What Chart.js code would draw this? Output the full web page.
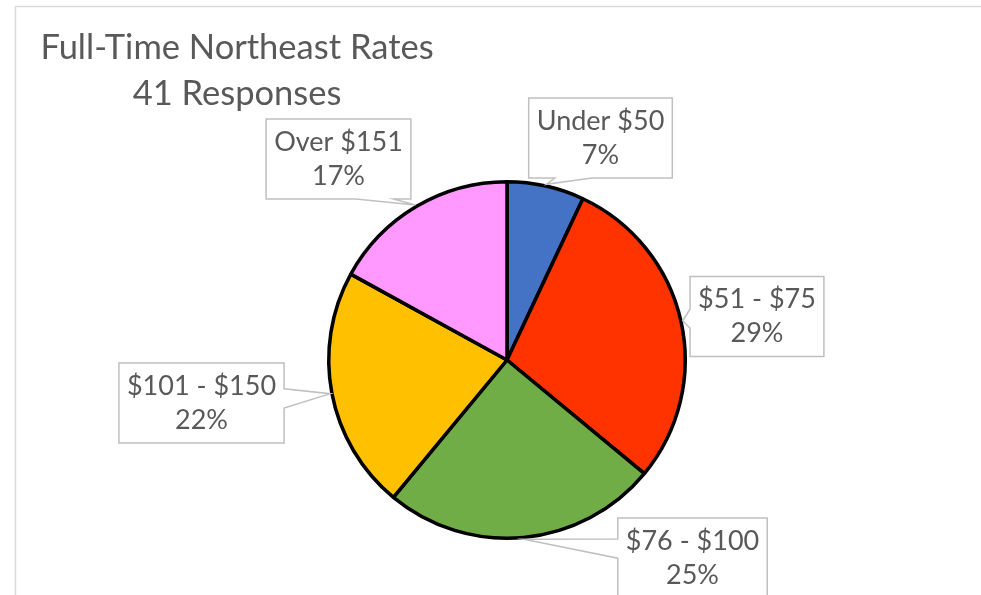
<!DOCTYPE html>
<html>
<head>
<meta charset="utf-8">
<script src="https://cdn.jsdelivr.net/npm/chart.js@4"></script>
<style>
  html, body { margin: 0; padding: 0; background: #ffffff; }
  #wrap { width: 981px; height: 595px; position: relative; }
</style>
</head>
<body>
<div id="wrap"><canvas id="c" width="981" height="595"></canvas></div>
<script>
const categories = ['Under $50', '$51 - $75', '$76 - $100', '$101 - $150', 'Over $151'];
const shares = [7, 29, 25, 22, 17];
const sliceColors = ['#4472C4', '#FF3300', '#70AD47', '#FFC000', '#FF99FF'];
const titleLines = ['Full-Time Northeast Rates', '41 Responses'];

const framePlugin = {
  id: 'frame',
  beforeDraw(chart) {
    const ctx = chart.ctx;
    ctx.save();
    ctx.fillStyle = '#ffffff';
    ctx.fillRect(0, 0, chart.width, chart.height);
    ctx.strokeStyle = '#d9d9d9';
    ctx.lineWidth = 1.5;
    ctx.strokeRect(15.5, 6.5, chart.width + 20, chart.height + 20);
    ctx.restore();
  }
};

const titlePlugin = {
  id: 'excelTitle',
  afterDraw(chart, args, opts) {
    const ctx = chart.ctx;
    ctx.save();
    ctx.font = opts.font;
    ctx.fillStyle = opts.color;
    ctx.textAlign = 'center';
    ctx.textBaseline = 'alphabetic';
    opts.lines.forEach((t, i) => ctx.fillText(t, opts.x, opts.y + i * opts.lineHeight));
    ctx.restore();
  }
};

const calloutPlugin = {
  id: 'callouts',
  afterDatasetsDraw(chart, args, opts) {
    const ctx = chart.ctx;
    const meta = chart.getDatasetMeta(0);
    const ds = chart.data.datasets[0];
    ctx.save();
    ctx.font = opts.font;
    meta.data.forEach((arc, i) => {
      const p = arc.getProps(['x', 'y', 'startAngle', 'endAngle', 'outerRadius'], true);
      const mid = (p.startAngle + p.endAngle) / 2;
      const r = p.outerRadius + ds.borderWidth / 2;
      const tx = p.x + Math.cos(mid) * r;
      const ty = p.y + Math.sin(mid) * r;
      const lines = [chart.data.labels[i], ds.data[i] + '%'];
      const w = Math.max(...lines.map(l => ctx.measureText(l).width)) + 2 * opts.padX;
      const h = opts.boxH;
      const off = opts.offsets[i];
      const cx = p.x + off[0], cy = p.y + off[1];
      const L = cx - w / 2, R = cx + w / 2, T = cy - h / 2, B = cy + h / 2;
      const over = {
        top: (T - ty) / h, bottom: (ty - B) / h,
        left: (L - tx) / w, right: (tx - R) / w
      };
      let side = 'bottom', best = -Infinity;
      for (const k in over) { if (over[k] > best) { best = over[k]; side = k; } }
      const clamp = (v, a, b) => Math.max(a, Math.min(b, v));
      let bc, hw;
      if (side === 'top' || side === 'bottom') {
        hw = 0.13 * w;
        bc = clamp((cx + clamp(tx, L, R)) / 2, L + hw, R - hw);
      } else {
        hw = 0.12 * h;
        bc = clamp((cy + clamp(ty, T, B)) / 2, T + hw, B - hw);
      }
      ctx.beginPath();
      ctx.moveTo(L, T);
      if (side === 'top') { ctx.lineTo(bc - hw, T); ctx.lineTo(tx, ty); ctx.lineTo(bc + hw, T); }
      ctx.lineTo(R, T);
      if (side === 'right') { ctx.lineTo(R, bc - hw); ctx.lineTo(tx, ty); ctx.lineTo(R, bc + hw); }
      ctx.lineTo(R, B);
      if (side === 'bottom') { ctx.lineTo(bc + hw, B); ctx.lineTo(tx, ty); ctx.lineTo(bc - hw, B); }
      ctx.lineTo(L, B);
      if (side === 'left') { ctx.lineTo(L, bc + hw); ctx.lineTo(tx, ty); ctx.lineTo(L, bc - hw); }
      ctx.closePath();
      ctx.fillStyle = '#ffffff';
      ctx.fill();
      ctx.strokeStyle = opts.borderColor;
      ctx.lineWidth = 1.5;
      ctx.lineJoin = 'miter';
      ctx.stroke();
      ctx.fillStyle = opts.color;
      ctx.textAlign = 'center';
      ctx.textBaseline = 'middle';
      ctx.fillText(lines[0], cx, cy - opts.lineHeight / 2);
      ctx.fillText(lines[1], cx, cy + opts.lineHeight / 2);
    });
    ctx.restore();
  }
};

new Chart(document.getElementById('c'), {
  type: 'pie',
  data: {
    labels: categories,
    datasets: [{
      data: shares,
      backgroundColor: sliceColors,
      borderColor: '#000000',
      borderWidth: 3.5
    }]
  },
  plugins: [framePlugin, titlePlugin, calloutPlugin],
  options: {
    responsive: false,
    devicePixelRatio: 1,
    animation: false,
    layout: { padding: { left: 327, right: 294, top: 180, bottom: 55 } },
    plugins: {
      legend: { display: false },
      tooltip: { enabled: false },
      title: { display: false },
      excelTitle: {
        lines: titleLines,
        font: '34.5px Lato',
        color: '#595959',
        x: 237,
        y: 59,
        lineHeight: 46
      },
      callouts: {
        font: '27px Lato',
        color: '#595959',
        borderColor: '#c0c0c0',
        padX: 8,
        boxH: 80,
        lineHeight: 34,
        offsets: [[93.5, -222], [250, -43.5], [185.5, 198], [-305.5, 43], [-168.5, -201]]
      }
    }
  }
});
</script>
</body>
</html>
